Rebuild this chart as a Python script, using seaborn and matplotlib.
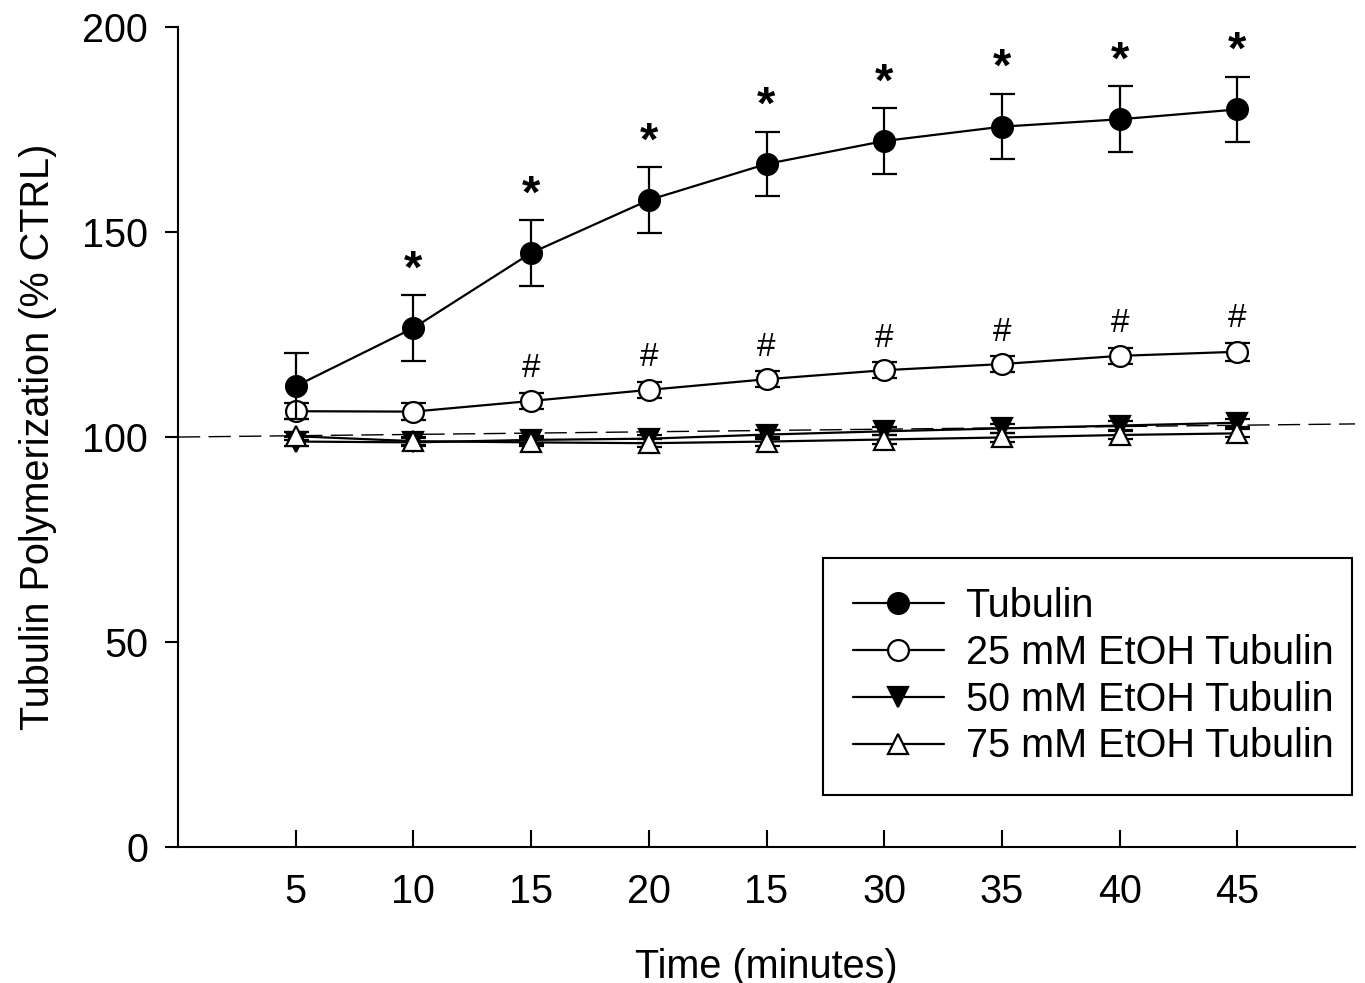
import matplotlib
matplotlib.use("Agg")
import matplotlib.pyplot as plt
import seaborn as sns
import pandas as pd
import numpy as np

# ---- data ----
positions = [1, 2, 3, 4, 5, 6, 7, 8, 9]
tick_labels = ["5", "10", "15", "20", "15", "30", "35", "40", "45"]

tubulin = [112.4, 126.6, 144.9, 157.8, 166.6, 172.2, 175.7, 177.5, 179.9]
tubulin_err = [8.0, 8.0, 8.0, 8.0, 7.9, 8.0, 8.0, 8.0, 8.0]

etoh25 = [106.3, 106.2, 108.8, 111.5, 114.1, 116.3, 117.8, 119.8, 120.8]
etoh25_err = [2.0, 2.0, 2.0, 2.0, 2.0, 2.0, 2.0, 2.0, 2.2]

etoh50 = [98.9, 98.7, 99.3, 99.6, 100.6, 101.4, 102.1, 102.8, 103.5]
etoh50_err = [1.0, 1.0, 1.0, 1.0, 1.0, 1.0, 1.0, 1.0, 1.0]

etoh75 = [100.2, 99.0, 98.7, 98.5, 98.9, 99.4, 99.9, 100.5, 100.9]
etoh75_err = [1.0, 1.0, 1.0, 1.0, 1.0, 1.0, 1.0, 1.0, 1.0]

series_names = ["Tubulin", "25 mM EtOH Tubulin", "50 mM EtOH Tubulin", "75 mM EtOH Tubulin"]

# significance marks
star_positions = [2, 3, 4, 5, 6, 7, 8, 9]
hash_positions = [3, 4, 5, 6, 7, 8, 9]

# dashed reference line (control)
ref_x = [0, 10]
ref_y = [100, 103.2]

# ---- plotting ----
sns.set_style("ticks")
plt.rcParams["font.family"] = ["Liberation Sans", "DejaVu Sans"]
for k in ["text.color", "axes.labelcolor", "xtick.color", "ytick.color", "axes.edgecolor"]:
    plt.rcParams[k] = "black"

FS = 28.5

fig = plt.figure(figsize=(13.65, 9.83), dpi=100)
ax = fig.add_axes([0.1304, 0.1383, 0.8623, 0.8342])

styles = [
    dict(marker="o", mfc="black", mec="black", ms=15),
    dict(marker="o", mfc="white", mec="black", ms=15),
    dict(marker="v", mfc="black", mec="black", ms=15),
    dict(marker="^", mfc="white", mec="black", ms=15),
]
values = [tubulin, etoh25, etoh50, etoh75]
errs = [tubulin_err, etoh25_err, etoh50_err, etoh75_err]

ax.plot(ref_x, ref_y, color="black", lw=1.0, ls=(0, (16, 6)), zorder=1)

zorders = [6, 5, 3, 4]
for name, v, e, st, z in zip(series_names, values, errs, styles, zorders):
    df = pd.DataFrame({"x": positions, "y": v})
    ax.errorbar(positions, v, yerr=e, fmt="none", ecolor="black",
                elinewidth=1.6, capsize=9, capthick=1.6, zorder=z)
    sns.lineplot(data=df, x="x", y="y", ax=ax, color="black", lw=1.6,
                 marker=st["marker"], markersize=st["ms"],
                 markerfacecolor=st["mfc"], markeredgecolor=st["mec"],
                 markeredgewidth=1.6, label=name, zorder=z + 0.5)

for p in star_positions:
    i = p - 1
    ax.annotate("*", (p, tubulin[i] + tubulin_err[i]), xytext=(0, 2),
                textcoords="offset points", ha="center", va="bottom",
                fontsize=34, fontweight="bold", zorder=10)
for p in hash_positions:
    i = p - 1
    ax.annotate("#", (p, etoh25[i] + etoh25_err[i]), xytext=(0, 6),
                textcoords="offset points", ha="center", va="bottom",
                fontsize=24, zorder=10)

ax.set_xlim(0, 10)
ax.set_ylim(0, 200)
ax.set_xticks(positions)
ax.set_xticklabels(tick_labels)
ax.set_yticks([0, 50, 100, 150, 200])
ax.tick_params(axis="x", direction="in", length=12, width=1.5, pad=19, labelsize=FS)
ax.tick_params(axis="y", direction="out", length=9.5, width=1.5, pad=12, labelsize=FS)
for s in ["top", "right"]:
    ax.spines[s].set_visible(False)
for s in ["left", "bottom"]:
    ax.spines[s].set_linewidth(1.5)
    ax.spines[s].set_color("black")

ax.set_xlabel("Time (minutes)", fontsize=FS, labelpad=26)
ax.set_ylabel("Tubulin Polymerization (% CTRL)", fontsize=FS, labelpad=18)

leg = ax.legend(loc="lower left", bbox_to_anchor=(0.548, 0.0634, 0.4495, 0.2906),
                mode="expand", frameon=True, fancybox=False, fontsize=FS,
                handlelength=2.3, handletextpad=0.55, borderpad=0.75,
                labelspacing=0.22, borderaxespad=0, numpoints=1)
leg.get_frame().set_edgecolor("black")
leg.get_frame().set_linewidth(1.5)
leg.get_frame().set_alpha(1)
for h in leg.legend_handles:
    h.set_markersize(15)

fig.savefig("out.png", dpi=100)
